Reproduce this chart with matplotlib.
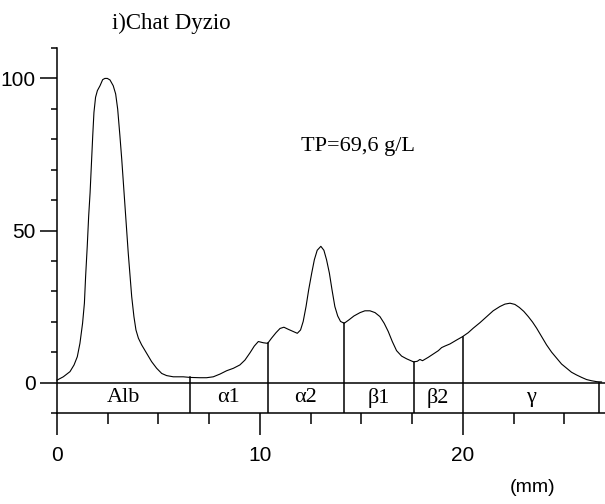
import matplotlib
matplotlib.use("Agg")
import matplotlib.pyplot as plt
import numpy as np
from matplotlib.ticker import MultipleLocator

# densitometry trace (mm along the strip, relative absorbance)
pos_mm = [0.00, 0.31, 0.64, 0.84, 1.00, 1.13, 1.26, 1.35, 1.41, 1.49, 1.56, 1.63, 1.69, 1.76,
          1.82, 1.90, 1.99, 2.12, 2.25, 2.36, 2.48, 2.61, 2.77, 2.89, 2.99, 3.10, 3.19, 3.27,
          3.35, 3.43, 3.51, 3.60, 3.68, 3.79, 3.89, 4.01, 4.17, 4.42, 4.66, 4.91, 5.16, 5.40,
          5.73, 6.22, 6.55, 7.04, 7.37, 7.70, 8.03, 8.36, 8.69, 9.01, 9.26, 9.51, 9.72, 9.92,
          10.16, 10.38, 10.57, 10.79, 10.99, 11.18, 11.40, 11.64, 11.84, 12.00, 12.13, 12.27,
          12.40, 12.55, 12.68, 12.82, 13.00, 13.15, 13.28, 13.42, 13.55, 13.69, 13.83, 13.97,
          14.15, 14.38, 14.63, 14.93, 15.17, 15.42, 15.67, 15.91, 16.12, 16.32, 16.52, 16.73,
          16.98, 17.23, 17.57, 17.75, 17.88, 18.01, 18.29, 18.54, 18.79, 18.95, 19.11, 19.36,
          19.69, 19.98, 20.26, 20.51, 20.84, 21.17, 21.49, 21.82, 22.07, 22.32, 22.56, 22.78,
          23.00, 23.22, 23.43, 23.63, 23.88, 24.12, 24.37, 24.62, 24.86, 25.11, 25.35, 25.60,
          25.85, 26.09, 26.34, 26.59, 26.83]
density = [0.8, 1.9, 3.6, 5.8, 8.5, 12.9, 19.5, 26.1, 34.9, 44.8, 54.7, 62.4, 71.2, 81.1,
           88.8, 93.8, 96.0, 97.6, 99.6, 100.0, 100.0, 99.5, 97.6, 94.9, 89.9, 81.1, 73.4, 65.7,
           58.0, 50.3, 42.6, 34.9, 28.3, 21.7, 17.3, 14.6, 12.4, 9.6, 6.9, 4.7, 3.0, 2.3,
           1.9, 1.9, 1.7, 1.6, 1.6, 1.9, 2.8, 3.9, 4.7, 5.8, 7.4, 9.8, 12.0, 13.5,
           13.1, 12.9, 14.6, 16.4, 17.8, 18.2, 17.5, 16.8, 16.2, 17.3, 20.1, 25.0,
           30.5, 36.0, 40.4, 43.5, 44.8, 43.5, 40.4, 36.0, 30.5, 25.0, 21.9, 20.1,
           19.5, 20.6, 21.9, 23.0, 23.6, 23.6, 23.0, 21.7, 19.5, 16.8, 13.5, 10.5,
           8.7, 7.8, 6.8, 7.0, 7.6, 7.2, 8.3, 9.4, 10.5, 11.5, 12.0, 12.7,
           14.0, 15.1, 16.4, 17.9, 19.7, 21.7, 23.6, 25.0, 25.8, 26.1, 25.7, 24.7,
           23.4, 21.7, 19.9, 17.9, 15.1, 12.4, 10.0, 8.0, 6.1, 4.7, 3.4, 2.5,
           1.7, 1.0, 0.6, 0.3, 0.2]

# fraction boundaries and their labels
cuts_mm = [6.55, 10.38, 14.15, 17.57, 19.98]
end_mm = 26.7
fractions = ["Alb", "α1", "α2", "β1", "β2", "γ"]

title = "i)Chat Dyzio"
total_protein = "TP=69,6 g/L"

num_font = ["Liberation Sans Narrow", "Liberation Sans", "DejaVu Sans"]
serif_font = ["Liberation Serif", "DejaVu Serif"]

fig = plt.figure(figsize=(6.05, 5.04), dpi=100)
ax = fig.add_axes([57 / 605, 91 / 504, 548 / 605, 365 / 504])
ax.set_xlim(0, 27.0)
ax.set_ylim(-10, 110)

lw_axis = 1.1
ax.plot(pos_mm, density, color="black", lw=0.8, clip_on=False)

# band strip under the trace
ax.axhline(0, color="black", lw=lw_axis)
edges = [0.0] + cuts_mm + [end_mm]
for c in cuts_mm:
    top = np.interp(c, pos_mm, density)
    ax.plot([c, c], [-10, top], color="black", lw=lw_axis)
ax.plot([end_mm, end_mm], [-10, 0], color="black", lw=lw_axis)
for name, a, b in zip(fractions, edges[:-1], edges[1:]):
    ax.text((a + b) / 2, -5, name, ha="center", va="center",
            fontsize=16, family=serif_font)

for side in ("top", "right"):
    ax.spines[side].set_visible(False)
for side in ("left", "bottom"):
    ax.spines[side].set_linewidth(lw_axis)

ax.yaxis.set_major_locator(MultipleLocator(50))
ax.yaxis.set_minor_locator(MultipleLocator(10))
ax.set_yticks([0, 50, 100])
ax.xaxis.set_major_locator(MultipleLocator(10))
ax.xaxis.set_minor_locator(MultipleLocator(2.5))
ax.tick_params(axis="y", which="major", length=12.2, width=lw_axis, pad=3)
ax.tick_params(axis="y", which="minor", length=4.3, width=lw_axis)
ax.tick_params(axis="x", which="major", length=15.8, width=lw_axis, pad=8)
ax.tick_params(axis="x", which="minor", length=7.9, width=lw_axis)
for lab in ax.get_xticklabels() + ax.get_yticklabels():
    lab.set_fontfamily(num_font)
    lab.set_fontsize(15)

fig.text(112 / 605, 1 - 23 / 504, title, ha="left", va="center",
         fontsize=16.5, family=serif_font)
ax.text(12.0, 77.5, total_protein, ha="left", va="center",
        fontsize=16, family=serif_font)
fig.text(533 / 605, 1 - 487 / 504, "(mm)", ha="center", va="center",
         fontsize=14, family=num_font)

fig.savefig("out.png", dpi=100)
